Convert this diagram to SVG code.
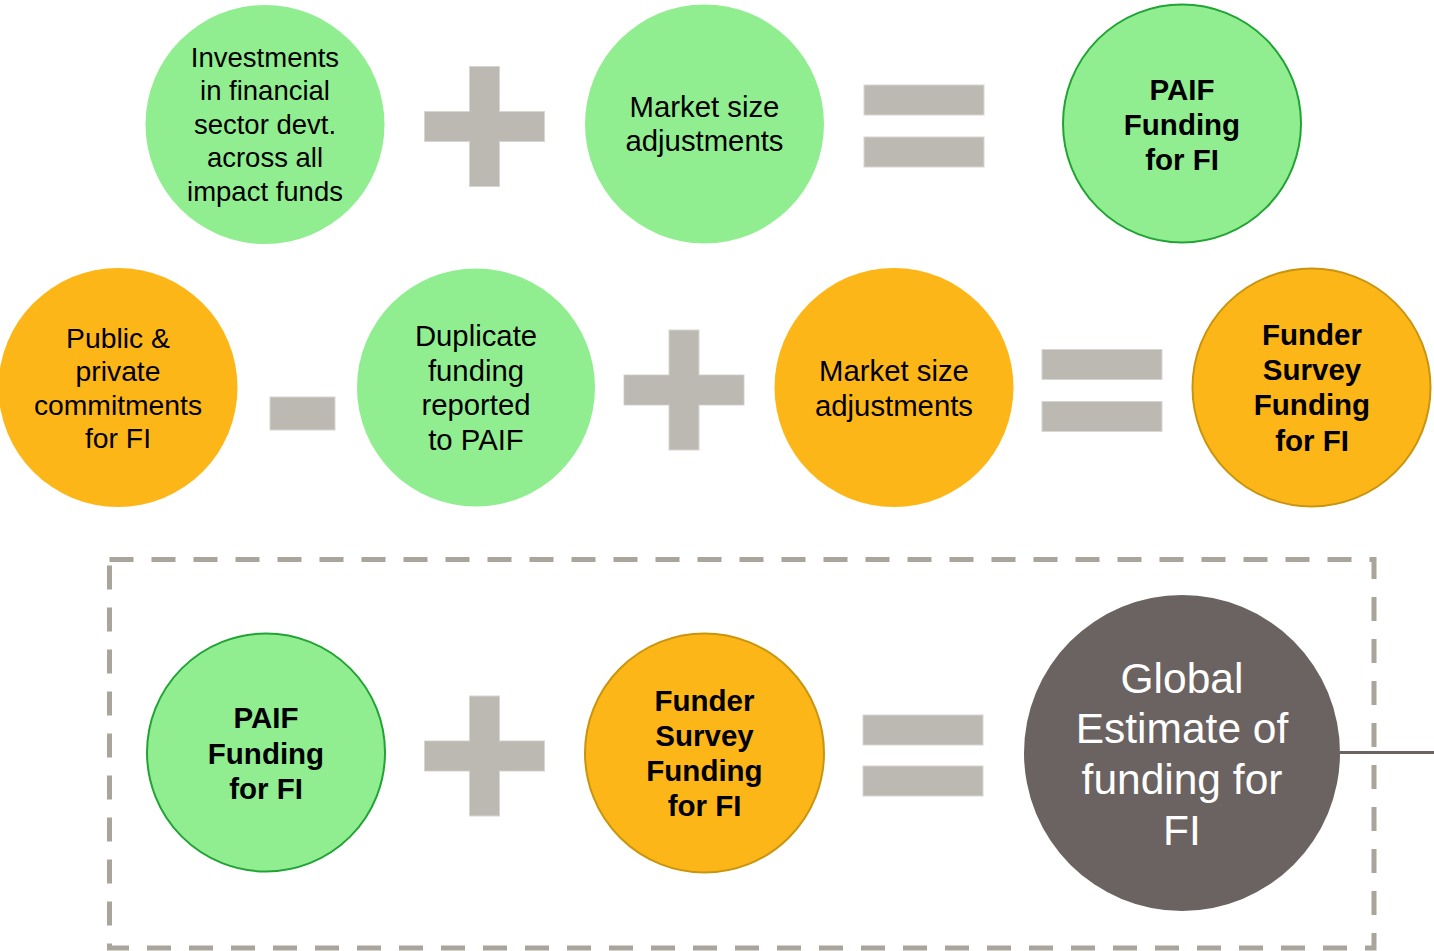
<svg xmlns="http://www.w3.org/2000/svg" width="1434" height="951" viewBox="0 0 1434 951">
<style>
.g{fill:#90EE90}
.o{fill:#FDB618}
.gs{stroke:#22A335;stroke-width:2}
.os{stroke:#C9950F;stroke-width:2}
.d{fill:#6B6361}
.op{fill:#BCB9B2;stroke:#D8D6D1;stroke-width:1}
text{font-family:"Liberation Sans",Arial,sans-serif;text-anchor:middle;fill:#000}
.t{font-size:27.5px}
.t2{font-size:28.3px}
.t3{font-size:29.3px}
.b{font-size:29.5px;font-weight:bold}
.w{font-size:42.5px;fill:#fff}
</style>
<rect width="1434" height="951" fill="#fff"/>
<g id="frame">
<rect x="109.5" y="559.5" width="1264.5" height="388.5" fill="none" stroke="#A9A49C" stroke-width="5" stroke-dasharray="24 18"/>
</g>
<g id="connectors">
<line x1="1340" y1="752.5" x2="1434" y2="752.5" stroke="#6B6361" stroke-width="3"/>
</g>
<g id="operators">
<g id="plus1"><rect class="op" x="424.5" y="111.5" width="120" height="30"/><rect class="op" x="469.5" y="66.5" width="30" height="120"/><rect x="425" y="112" width="119" height="29" fill="#BCB9B2"/></g>
<g id="eq1"><rect class="op" x="864" y="85" width="120" height="30"/><rect class="op" x="864" y="137" width="120" height="30"/></g>
<g id="minus"><rect class="op" x="270" y="397" width="65" height="33"/></g>
<g id="plus2"><rect class="op" x="624" y="375" width="120" height="30"/><rect class="op" x="669" y="330" width="30" height="120"/><rect x="624.5" y="375.5" width="119" height="29" fill="#BCB9B2"/></g>
<g id="eq2"><rect class="op" x="1042" y="349.5" width="120" height="30"/><rect class="op" x="1042" y="401.5" width="120" height="30"/></g>
<g id="plus3"><rect class="op" x="424.5" y="741" width="120" height="30"/><rect class="op" x="469.5" y="696" width="30" height="120"/><rect x="425" y="741.5" width="119" height="29" fill="#BCB9B2"/></g>
<g id="eq3"><rect class="op" x="863" y="715" width="120" height="30"/><rect class="op" x="863" y="766" width="120" height="30"/></g>
</g>
<g id="n1">
<circle class="g" cx="265" cy="124.5" r="119.5"/>
<text class="t"><tspan x="265" y="66.5">Investments</tspan><tspan x="265" y="100">in financial</tspan><tspan x="265" y="133.5">sector devt.</tspan><tspan x="265" y="167">across all</tspan><tspan x="265" y="200.5">impact funds</tspan></text>
</g>
<g id="n2">
<circle class="g" cx="704.5" cy="124" r="119.5"/>
<text class="t3"><tspan x="704.5" y="117">Market size</tspan><tspan x="704.5" y="151">adjustments</tspan></text>
</g>
<g id="n3">
<circle class="g gs" cx="1182" cy="123.5" r="119"/>
<text class="b"><tspan x="1182" y="99.5">PAIF</tspan><tspan x="1182" y="134.5">Funding</tspan><tspan x="1182" y="169.5">for FI</tspan></text>
</g>
<g id="n4">
<circle class="o" cx="118" cy="387.5" r="119.5"/>
<text class="t2"><tspan x="118" y="347.5">Public &amp;</tspan><tspan x="118" y="381">private</tspan><tspan x="118" y="414.5">commitments</tspan><tspan x="118" y="448">for FI</tspan></text>
</g>
<g id="n5">
<circle class="g" cx="476" cy="387.5" r="119"/>
<text class="t3"><tspan x="476" y="345.5">Duplicate</tspan><tspan x="476" y="380.5">funding</tspan><tspan x="476" y="415">reported</tspan><tspan x="476" y="450">to PAIF</tspan></text>
</g>
<g id="n6">
<circle class="o" cx="894" cy="387.5" r="119.5"/>
<text class="t3"><tspan x="894" y="381">Market size</tspan><tspan x="894" y="415.5">adjustments</tspan></text>
</g>
<g id="n7">
<circle class="o os" cx="1311.5" cy="387.5" r="119"/>
<text class="b"><tspan x="1312" y="345">Funder</tspan><tspan x="1312" y="380">Survey</tspan><tspan x="1312" y="415">Funding</tspan><tspan x="1312" y="450.5">for FI</tspan></text>
</g>
<g id="n8">
<circle class="g gs" cx="266" cy="752.5" r="119"/>
<text class="b"><tspan x="266" y="728">PAIF</tspan><tspan x="266" y="763.5">Funding</tspan><tspan x="266" y="799">for FI</tspan></text>
</g>
<g id="n9">
<circle class="o os" cx="704.5" cy="753" r="119.5"/>
<text class="b"><tspan x="704.5" y="710.5">Funder</tspan><tspan x="704.5" y="745.5">Survey</tspan><tspan x="704.5" y="780.5">Funding</tspan><tspan x="704.5" y="815.5">for FI</tspan></text>
</g>
<g id="n10">
<circle class="d" cx="1182" cy="753" r="158"/>
<text class="w"><tspan x="1182" y="693">Global</tspan><tspan x="1182" y="743">Estimate of</tspan><tspan x="1182" y="794">funding for</tspan><tspan x="1182" y="845">FI</tspan></text>
</g>
</svg>
